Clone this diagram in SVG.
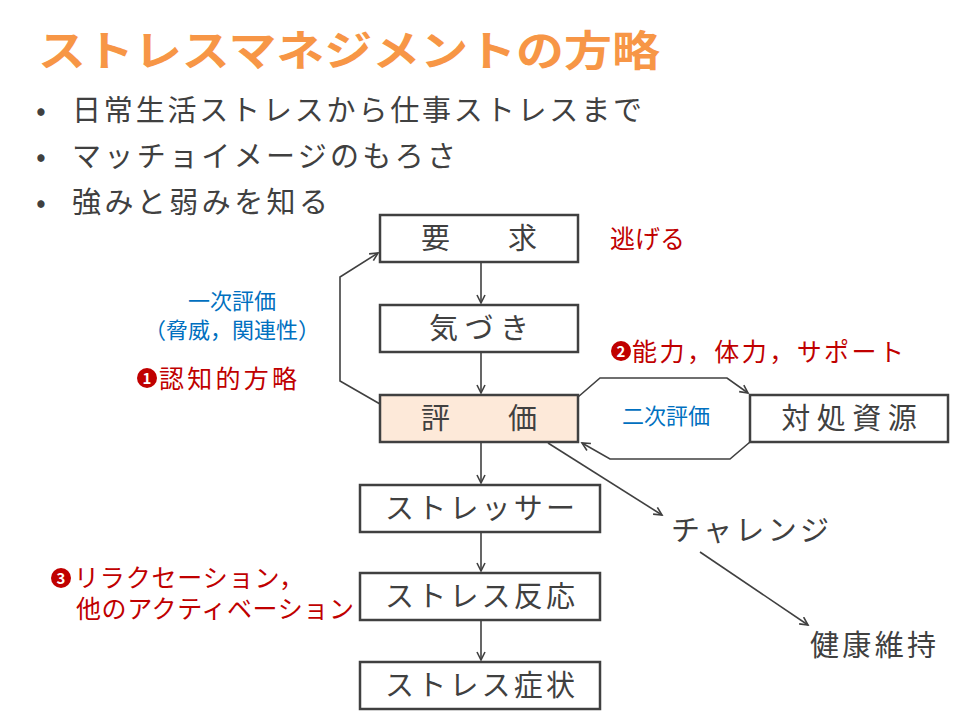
<svg xmlns="http://www.w3.org/2000/svg" width="960" height="720" viewBox="0 0 960 720">
<defs>
<marker id="a" markerWidth="12" markerHeight="12" refX="9" refY="5" orient="auto" markerUnits="userSpaceOnUse"><path d="M1,1 L9,5 L1,9" fill="none" stroke="#404040" stroke-width="1.6"/></marker>
</defs>
<style>
text{font-family:"Noto Sans CJK JP","Liberation Sans",sans-serif}
.b{fill:#fff;stroke:#404040;stroke-width:2.5}
.t{font-size:29px;fill:#404040;text-anchor:middle}
.c{fill:none;stroke:#404040;stroke-width:1.6}
.r{fill:#c00000;font-size:25px}
.bl{fill:#0070c0;font-size:22px}
.n{fill:#fff;font-size:15px;font-weight:bold;text-anchor:middle}
</style>
<rect width="960" height="720" fill="#fff"/>
<text x="38" y="66" font-size="42" font-weight="bold" fill="#f79646" textLength="622" lengthAdjust="spacingAndGlyphs">ストレスマネジメントの方略</text>
<g font-size="29" fill="#404040">
<text x="36" y="121">•</text><text x="72" y="121" textLength="570">日常生活ストレスから仕事ストレスまで</text>
<text x="36" y="167">•</text><text x="72" y="167" textLength="384">マッチョイメージのもろさ</text>
<text x="36" y="213">•</text><text x="72" y="213" textLength="256">強みと弱みを知る</text>
</g>
<g id="connectors">
<line class="c" x1="481" y1="262" x2="481" y2="303" marker-end="url(#a)"/>
<line class="c" x1="481" y1="352" x2="481" y2="393" marker-end="url(#a)"/>
<line class="c" x1="481" y1="442" x2="481" y2="483" marker-end="url(#a)"/>
<line class="c" x1="481" y1="532" x2="481" y2="571" marker-end="url(#a)"/>
<line class="c" x1="481" y1="620" x2="481" y2="660" marker-end="url(#a)"/>
<polyline class="c" points="380,404 340,381 340,277 378,253" marker-end="url(#a)"/>
<polyline class="c" points="578,397 600,378 727,378 748,393" marker-end="url(#a)"/>
<polyline class="c" points="750,442 730,459 610,459 582,443" marker-end="url(#a)"/>
<line class="c" x1="548" y1="443" x2="662" y2="515" marker-end="url(#a)"/>
<line class="c" x1="700" y1="552" x2="808" y2="625" marker-end="url(#a)"/>
</g>
<g id="n1"><rect class="b" x="380" y="215" width="198" height="47"/><text class="t" x="479" y="249">要　　求</text></g>
<g id="n2"><rect class="b" x="380" y="305" width="198" height="47"/><text class="t" x="479" y="339">気 づ き</text></g>
<g id="n3"><rect class="b" x="380" y="395" width="198" height="47" style="fill:#fde9d9"/><text class="t" x="479" y="429">評　　価</text></g>
<g id="n4"><rect class="b" x="360" y="485" width="240" height="47"/><text class="t" x="480" y="519" textLength="190">ストレッサー</text></g>
<g id="n5"><rect class="b" x="360" y="573" width="240" height="47"/><text class="t" x="480" y="607" textLength="190">ストレス反応</text></g>
<g id="n6"><rect class="b" x="360" y="662" width="240" height="47"/><text class="t" x="480" y="696" textLength="190">ストレス症状</text></g>
<g id="n7"><rect class="b" x="750" y="395" width="198" height="47"/><text class="t" x="849" y="429">対 処 資 源</text></g>
<g id="n8"><text class="t" x="750" y="541" textLength="158">チャレンジ</text></g>
<g id="n9"><text class="t" x="873" y="656" textLength="126">健康維持</text></g>
<text class="r" x="610" y="248">逃げる</text>
<circle cx="621" cy="351" r="10" fill="#c00000"/><text class="n" x="621" y="357">2</text>
<text class="r" x="632" y="361" textLength="272">能力，体力，サポート</text>
<text class="bl" x="666" y="424" text-anchor="middle">二次評価</text>
<text class="bl" x="232" y="309" text-anchor="middle">一次評価</text>
<text class="bl" x="232" y="338" text-anchor="middle">（脅威，関連性）</text>
<circle cx="147" cy="378" r="10" fill="#c00000"/><text class="n" x="147" y="384">1</text>
<text class="r" x="159" y="388" textLength="138">認知的方略</text>
<circle cx="61" cy="578" r="10" fill="#c00000"/><text class="n" x="61" y="584">3</text>
<text class="r" x="74" y="587" textLength="230">リラクセーション，</text>
<text class="r" x="76" y="618" textLength="278">他のアクティベーション</text>
</svg>
